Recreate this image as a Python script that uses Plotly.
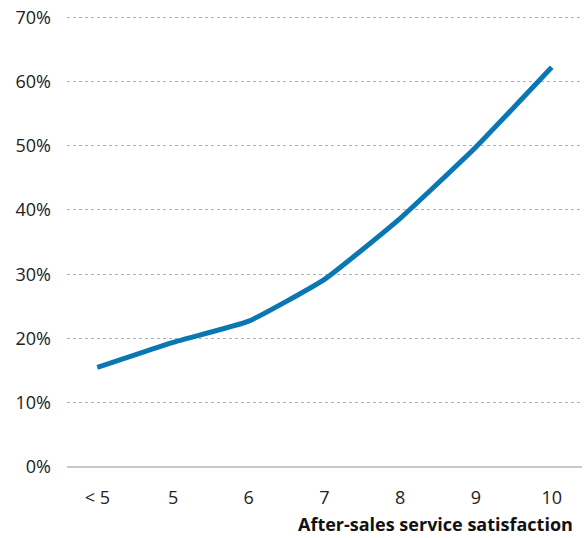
import plotly.graph_objects as go

categories = ["< 5", "5", "6", "7", "8", "9", "10"]
share_pct = [15.5, 19.4, 22.7, 29.2, 38.7, 49.8, 62.2]
y_ticks = [0, 10, 20, 30, 40, 50, 60, 70]
y_tick_labels = [f"{v}%" for v in y_ticks]
x_title = "After-sales service satisfaction"

fig = go.Figure()
fig.add_trace(go.Scatter(
    x=categories, y=share_pct, mode="lines",
    line=dict(color="#0a77b5", width=5, shape="spline", smoothing=0.4),
    hoverinfo="x+y", showlegend=False,
))

font_family = "'Open Sans', sans-serif"
fig.update_layout(
    width=586, height=538,
    margin=dict(l=67, r=4, t=14, b=71),
    paper_bgcolor="white", plot_bgcolor="white",
    font=dict(family=font_family, size=18, color="#222222"),
    xaxis=dict(
        type="category", range=[-0.4, 6.4], showgrid=False,
        showline=False, zeroline=False, ticks="", ticklen=0,
        ticklabelstandoff=18,
        tickfont=dict(size=18, color="#222222"),
    ),
    yaxis=dict(
        range=[0, 70.5], tickvals=y_ticks, ticktext=y_tick_labels,
        showgrid=True, gridcolor="#b0b0b0", griddash="dot", gridwidth=1,
        zeroline=True, zerolinecolor="#c8c8c8", zerolinewidth=2,
        showline=False, ticks="", ticklabelstandoff=15,
        tickfont=dict(size=18, color="#222222"),
    ),
    annotations=[dict(
        text=f"<b>{x_title}</b>", xref="paper", yref="paper",
        x=1, y=0, xanchor="right", yanchor="middle", yshift=-57, xshift=-8,
        borderpad=0,
        showarrow=False, font=dict(size=18, color="#111111", family=font_family),
    )],
)

fig.write_html(
    "out.html",
    config={"displayModeBar": False},
    post_script="document.body.style.margin='0';document.body.style.overflow='hidden';",
)
